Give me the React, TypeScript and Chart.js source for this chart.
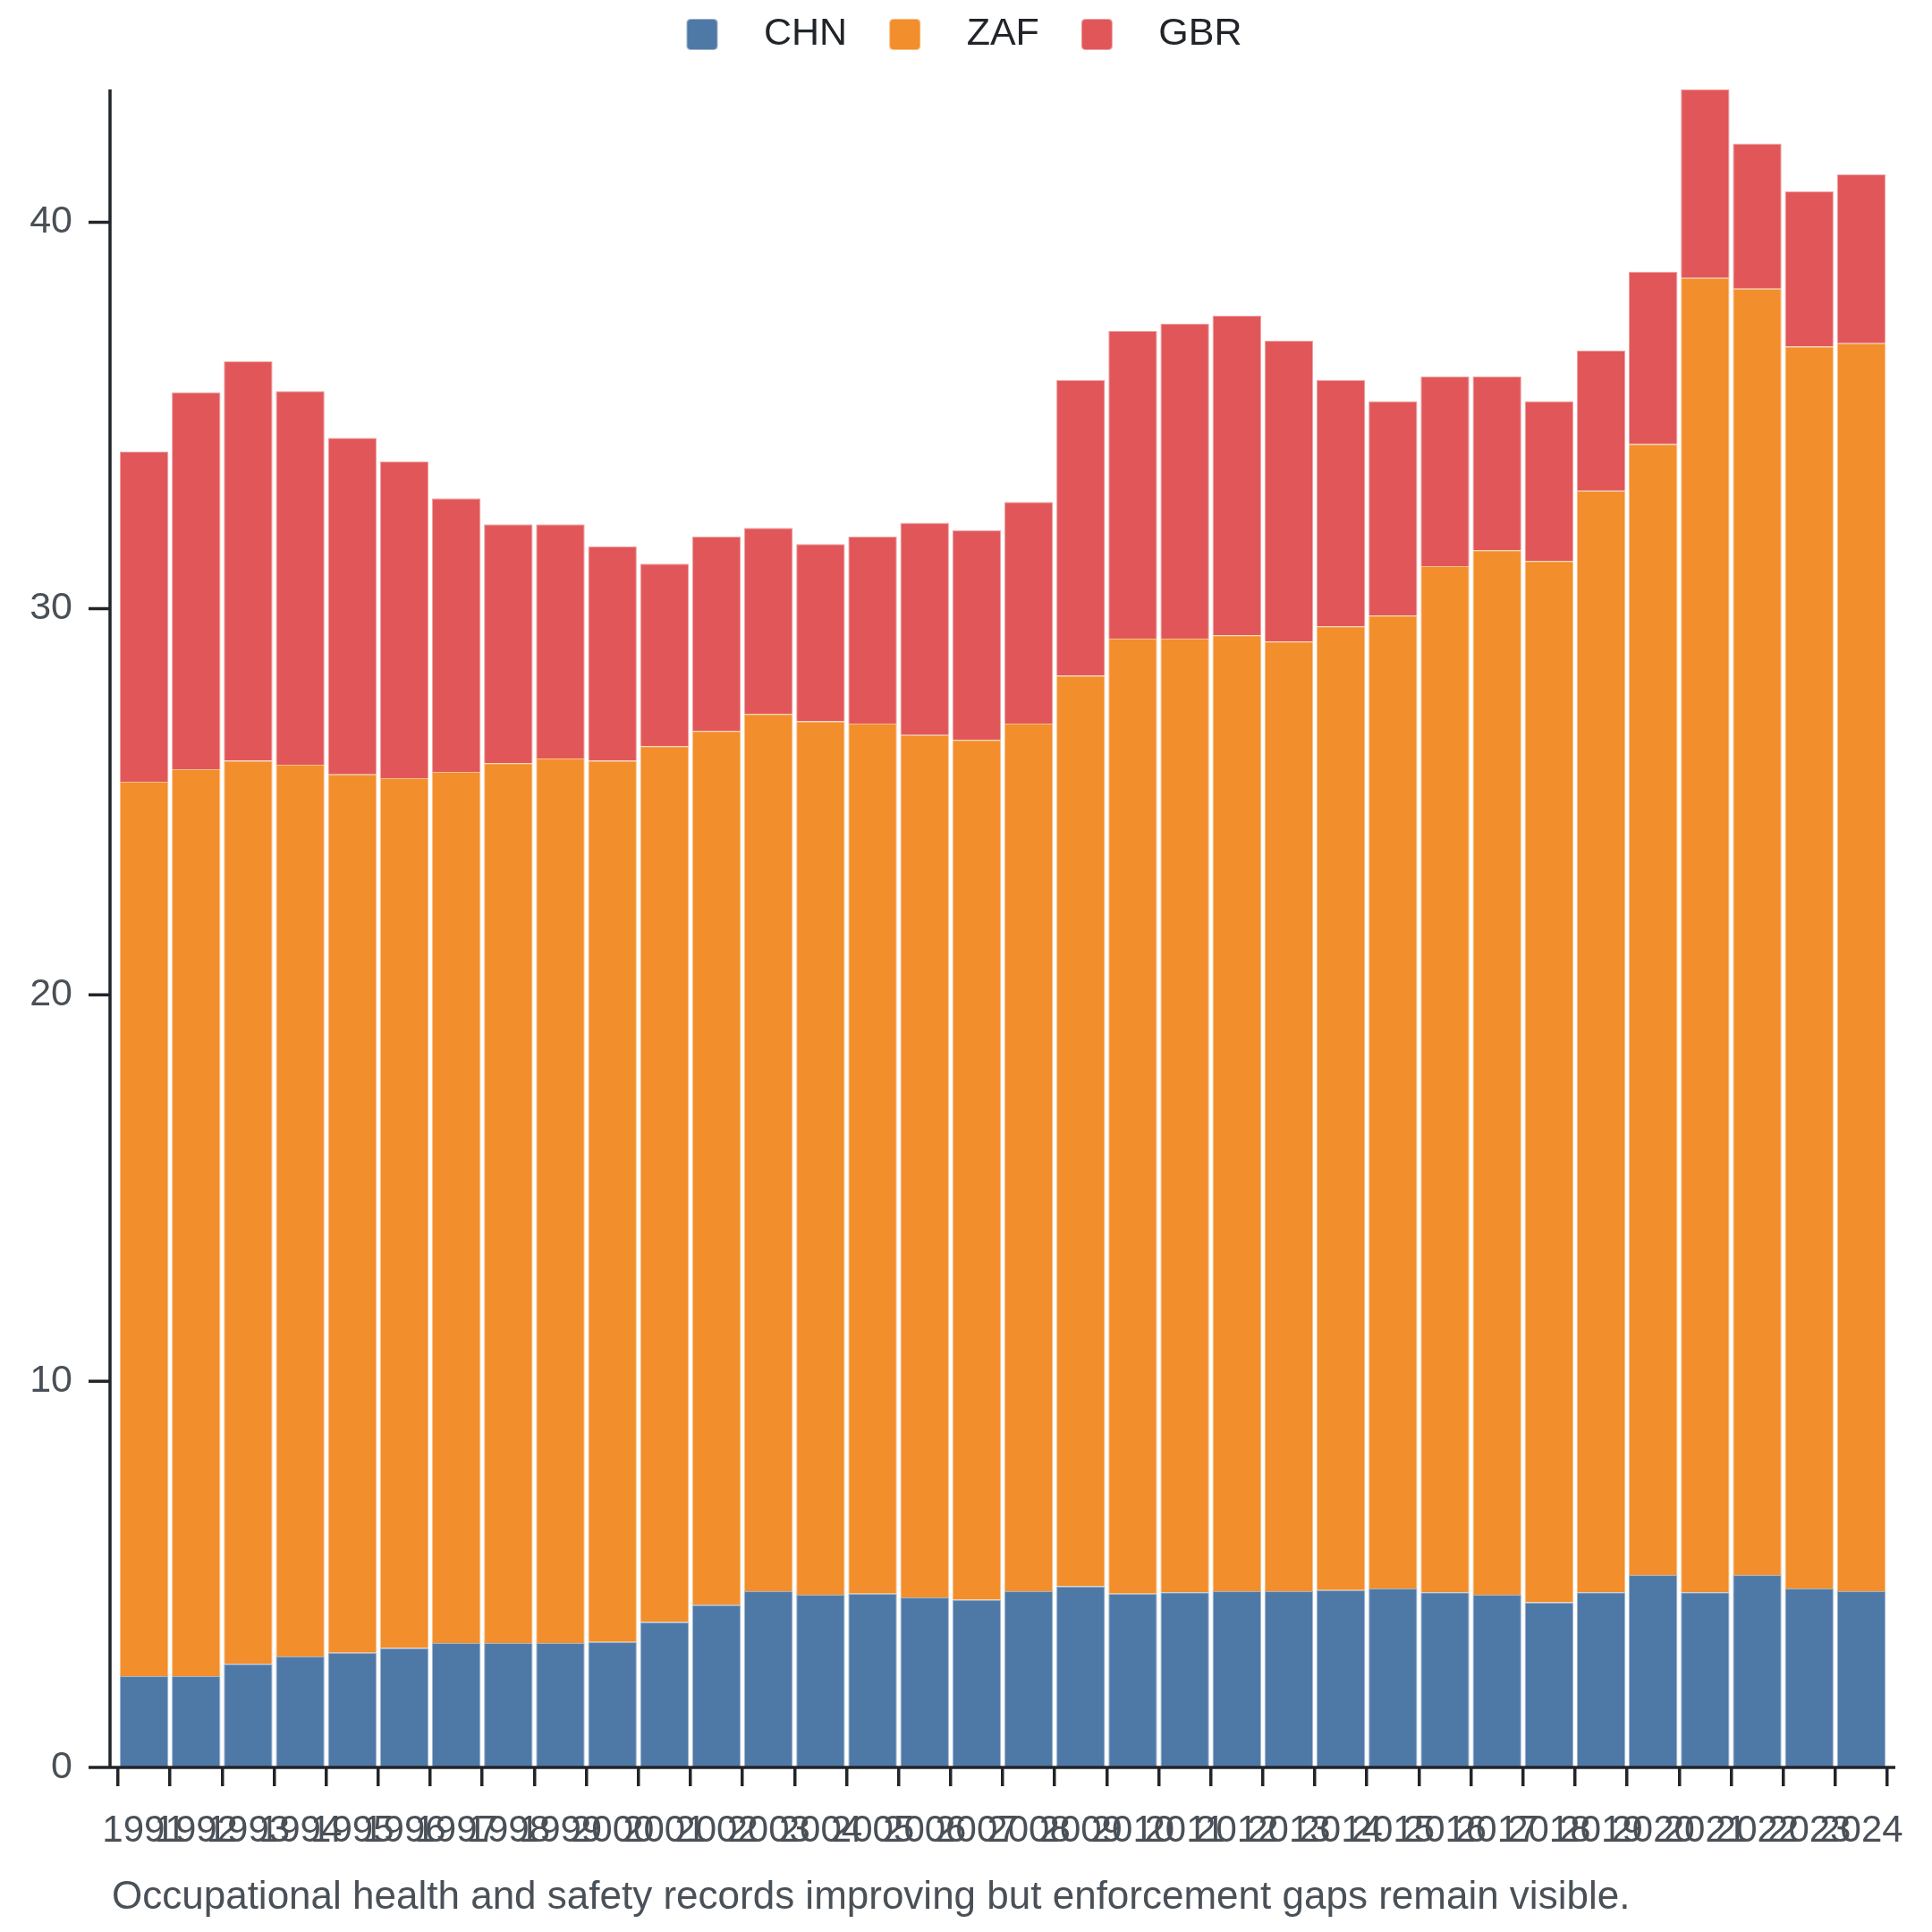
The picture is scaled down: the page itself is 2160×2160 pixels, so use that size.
import React, { useEffect, useRef } from 'react';
import { Chart, registerables } from 'chart.js';

Chart.register(...registerables);

const years = [
  '1991', '1992', '1993', '1994', '1995', '1996', '1997', '1998', '1999', '2000',
  '2001', '2002', '2003', '2004', '2005', '2006', '2007', '2008', '2009', '2010',
  '2011', '2012', '2013', '2014', '2015', '2016', '2017', '2018', '2019', '2020',
  '2021', '2022', '2023', '2024',
];

const chn = [
  2.36, 2.36, 2.68, 2.87, 2.97, 3.09, 3.22, 3.22, 3.22, 3.25,
  3.76, 4.21, 4.56, 4.47, 4.50, 4.40, 4.34, 4.56, 4.69, 4.50,
  4.53, 4.56, 4.56, 4.59, 4.63, 4.53, 4.47, 4.27, 4.53, 4.98,
  4.53, 4.98, 4.63, 4.56,
];

const zaf = [
  23.16, 23.48, 23.38, 23.09, 22.74, 22.52, 22.55, 22.78, 22.90, 22.81,
  22.68, 22.62, 22.71, 22.61, 22.52, 22.33, 22.26, 22.46, 23.57, 24.72,
  24.69, 24.75, 24.59, 24.95, 25.19, 26.57, 27.04, 26.96, 28.52, 29.28,
  34.03, 33.30, 32.15, 32.31,
];

const gbr = [
  8.55, 9.76, 10.34, 9.67, 8.71, 8.20, 7.08, 6.18, 6.06, 5.55,
  4.72, 5.04, 4.82, 4.59, 4.85, 5.49, 5.43, 5.74, 7.66, 7.97,
  8.16, 8.27, 7.79, 6.38, 5.55, 4.91, 4.50, 4.14, 3.63, 4.46,
  4.88, 3.76, 4.02, 4.37,
];

const seriesNames = ['CHN', 'ZAF', 'GBR'];
const seriesValues = [chn, zaf, gbr];
const seriesColors = ['#4e79a7', '#f28e2b', '#e15759'];
const yTickStep = 10;

const caption = 'Occupational health and safety records improving but enforcement gaps remain visible.';

const FONT = '"Liberation Sans", Arial, Helvetica, sans-serif';
const AXIS_COLOR = '#212529';
const TICK_TEXT = '#495057';

// blend a hex colour toward white
const tint = (hex: string, amount: number) => {
  const n = parseInt(hex.slice(1), 16);
  const ch = [(n >> 16) & 255, (n >> 8) & 255, n & 255].map((c) => Math.round(c + (255 - c) * amount));
  return `rgb(${ch[0]}, ${ch[1]}, ${ch[2]})`;
};

// legend swatch: empty lead, rounded square, empty trail (sets gap to the label)
const makeSwatch = (color: string) => {
  const c = document.createElement('canvas');
  c.width = 103;
  c.height = 35;
  const g = c.getContext('2d');
  if (g) {
    g.beginPath();
    if (g.roundRect) g.roundRect(38.5, 0.5, 34, 34, 4);
    else g.rect(38.5, 0.5, 34, 34);
    g.fillStyle = color;
    g.fill();
    g.lineWidth = 1;
    g.strokeStyle = tint(color, 0.45);
    g.stroke();
  }
  return c;
};

// axis lines sit a little outside the bar area, like the reference
const axesPlugin = {
  id: 'axesPlugin',
  afterDatasetsDraw(chart: any) {
    const { ctx, chartArea } = chart;
    const yScale = chart.scales.y;
    const ax = chartArea.left - 9;
    ctx.save();
    ctx.strokeStyle = AXIS_COLOR;
    ctx.lineWidth = 3.5;
    ctx.beginPath();
    ctx.moveTo(ax, chartArea.top);
    ctx.lineTo(ax, chartArea.bottom);
    ctx.moveTo(ax, chartArea.bottom);
    ctx.lineTo(chartArea.right + 9, chartArea.bottom);
    yScale.ticks.forEach((t: any) => {
      const py = yScale.getPixelForValue(t.value);
      ctx.moveTo(ax - 24, py);
      ctx.lineTo(ax, py);
    });
    ctx.stroke();

    ctx.fillStyle = TICK_TEXT;
    ctx.font = `44px ${FONT}`;
    ctx.textAlign = 'left';
    ctx.textBaseline = 'alphabetic';
    ctx.fillText(caption, ax + 2, chart.height - 18);
    ctx.restore();
  },
};

const legendHeight = {
  id: 'legendHeight',
  beforeInit(chart: any) {
    const legend = chart.legend;
    if (!legend) return;
    const fit = legend.fit;
    legend.fit = function () {
      fit.call(this);
      this.height = 92;
    };
  },
};

const App: React.FC = () => {
  const canvasRef = useRef<HTMLCanvasElement>(null);

  useEffect(() => {
    if (!canvasRef.current) return;
    const swatches = seriesColors.map(makeSwatch);
    const totals = years.map((_, i) => seriesValues.reduce((s, arr) => s + arr[i], 0));
    const yMax = Math.max(...totals);

    const chart = new Chart(canvasRef.current, {
      type: 'bar',
      data: {
        labels: years,
        datasets: seriesNames.map((name, i) => ({
          label: name,
          data: seriesValues[i],
          backgroundColor: seriesColors[i],
          borderColor: tint(seriesColors[i], 0.45),
          borderWidth: 1,
          barPercentage: 0.935,
          categoryPercentage: 1,
        })),
      },
      options: {
        responsive: true,
        maintainAspectRatio: false,
        animation: false,
        layout: { padding: { top: 0, left: 0, right: 42, bottom: 0 } },
        font: { family: FONT },
        plugins: {
          tooltip: { enabled: false },
          legend: {
            position: 'top',
            align: 'center',
            labels: {
              usePointStyle: true,
              pointStyleWidth: 103,
              boxHeight: 35,
              padding: 9,
              color: AXIS_COLOR,
              font: { size: 43, family: FONT },
              generateLabels: (c: any) =>
                Chart.defaults.plugins.legend.labels
                  .generateLabels(c)
                  .map((item: any, i: number) => ({ ...item, pointStyle: swatches[i] })),
            },
          },
        },
        scales: {
          x: {
            stacked: true,
            offset: true,
            grid: {
              display: true,
              offset: true,
              drawOnChartArea: false,
              drawTicks: true,
              tickLength: 21,
              color: AXIS_COLOR,
              lineWidth: 3.5,
            },
            border: { display: false },
            ticks: {
              autoSkip: false,
              maxRotation: 0,
              minRotation: 0,
              padding: 25,
              color: TICK_TEXT,
              font: { size: 42, family: FONT },
            },
            afterFit: (scale: any) => {
              scale.height = 176;
              scale.paddingLeft = 0;
              scale.paddingRight = 0;
            },
          },
          y: {
            stacked: true,
            min: 0,
            max: yMax,
            grid: { display: false, drawTicks: false },
            border: { display: false },
            ticks: {
              stepSize: yTickStep,
              includeBounds: false,
              padding: 51,
              color: TICK_TEXT,
              font: { size: 43, family: FONT },
            },
            afterFit: (scale: any) => {
              scale.width = 124;
              scale.paddingTop = 0;
              scale.paddingBottom = 0;
            },
          },
        },
      },
      plugins: [axesPlugin, legendHeight],
    });

    return () => chart.destroy();
  }, []);

  return (
    <div style={{ position: 'relative', width: 2144, height: 2144 }}>
      <canvas ref={canvasRef} />
    </div>
  );
};

export default App;
